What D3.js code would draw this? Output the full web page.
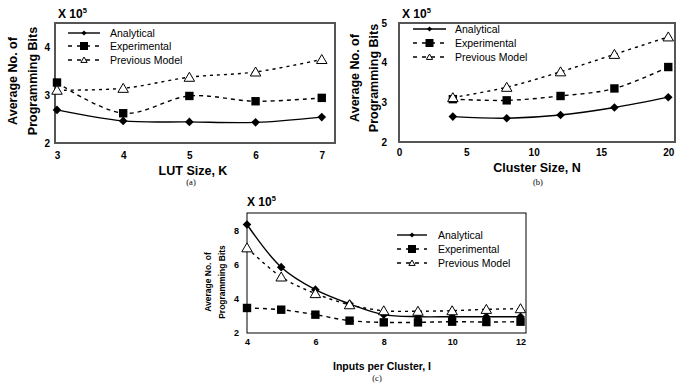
<!DOCTYPE html>
<html><head><meta charset="utf-8">
<script src="https://cdn.jsdelivr.net/npm/d3@7"></script>
<style>
body{margin:0;background:#fff;}
svg{display:block;font-family:"Liberation Sans",Arial,sans-serif;}
</style></head>
<body>
<svg id="c" width="676" height="384"></svg>
<script>
// ---------- data ----------
const lutSizes = [3, 4, 5, 6, 7];
const lutAnalytical   = [2.69, 2.46, 2.44, 2.43, 2.54];
const lutExperimental = [3.26, 2.62, 2.98, 2.87, 2.94];
const lutPrevious     = [3.10, 3.14, 3.37, 3.48, 3.74];
const lutTicksY = [2, 3, 4];
const lutTicksX = [3, 4, 5, 6, 7];

const clusterSizes = [4, 8, 12, 16, 20];
const clusterAnalytical   = [2.64, 2.60, 2.68, 2.87, 3.13];
const clusterExperimental = [3.08, 3.05, 3.16, 3.35, 3.89];
const clusterPrevious     = [3.12, 3.38, 3.77, 4.21, 4.65];
const clusterTicksY = [2, 3, 4, 5];
const clusterTicksX = [0, 5, 10, 15, 20];

const inputs = [4, 5, 6, 7, 8, 9, 10, 11, 12];
const inputsAnalytical   = [8.33, 5.84, 4.53, 3.70, 3.07, 2.95, 2.95, 2.95, 2.95];
const inputsExperimental = [3.46, 3.36, 3.07, 2.72, 2.62, 2.62, 2.66, 2.64, 2.66];
const inputsPrevious     = [6.97, 5.27, 4.30, 3.65, 3.30, 3.27, 3.30, 3.38, 3.42];
const inputsTicksY = [2, 4, 6, 8];
const inputsTicksX = [4, 6, 8, 10, 12];

const seriesNames = ["Analytical", "Experimental", "Previous Model"];

// ---------- drawing ----------
const svg = d3.select("#c");

function marker(g, type, x, y, s) {
  if (type === 0) {
    g.append("path").attr("d", `M${x},${y - s}L${x + s},${y}L${x},${y + s}L${x - s},${y}Z`).attr("fill", "#000");
  } else if (type === 1) {
    g.append("rect").attr("x", x - s).attr("y", y - s).attr("width", 2 * s).attr("height", 2 * s).attr("fill", "#000");
  } else {
    const h = s * 1.8;
    g.append("path").attr("d", `M${x},${y - h * 0.55}L${x + s * 1.05},${y + h * 0.45}L${x - s * 1.05},${y + h * 0.45}Z`)
      .attr("fill", "#fff").attr("stroke", "#000").attr("stroke-width", 1);
  }
}
const dashes = [null, "4,4", "3,4"];

function panel(cfg) {
  const g = svg.append("g");
  const x = d3.scaleLinear().domain(cfg.xDomain).range([cfg.left, cfg.right]);
  const y = d3.scaleLinear().domain(cfg.yDomain).range([cfg.bottom, cfg.top]);

  // frame
  g.append("rect").attr("x", cfg.left).attr("y", cfg.top)
    .attr("width", cfg.right - cfg.left).attr("height", cfg.bottom - cfg.top)
    .attr("fill", "none").attr("stroke", cfg.frameColor).attr("stroke-width", cfg.frameWidth);

  // axes (labels only)
  const ax = g.append("g").attr("transform", `translate(0,${cfg.bottom})`)
    .call(d3.axisBottom(x).tickValues(cfg.ticksX).tickSize(0).tickPadding(cfg.xPad).tickFormat(d3.format("d")));
  ax.select(".domain").remove();
  ax.selectAll("text").attr("font-size", cfg.tickFont).attr("font-weight", "bold").attr("fill", "#000")
    .attr("font-family", "Liberation Sans, Arial, sans-serif");
  const ay = g.append("g").attr("transform", `translate(${cfg.left},0)`)
    .call(d3.axisLeft(y).tickValues(cfg.ticksY).tickSize(0).tickPadding(cfg.yPad).tickFormat(d3.format("d")));
  ay.select(".domain").remove();
  ay.selectAll("text").attr("font-size", cfg.tickFont).attr("font-weight", "bold").attr("fill", "#000")
    .attr("font-family", "Liberation Sans, Arial, sans-serif");

  // x title
  g.append("text").attr("x", cfg.xTitleX).attr("y", cfg.xTitleY).attr("text-anchor", "middle")
    .attr("font-size", cfg.xTitleFont).attr("font-weight", "bold").text(cfg.xTitle);
  // y title
  [["Average No. of", cfg.yTitleX1], ["Programming Bits", cfg.yTitleX2]].forEach(([t, px]) => {
    g.append("text").attr("transform", `translate(${px},${cfg.yTitleY}) rotate(-90)`)
      .attr("text-anchor", "middle").attr("dy", "0.35em")
      .attr("font-size", cfg.yTitleFont).attr("font-weight", "bold").text(t);
  });
  // X 10^5
  const ex = g.append("text").attr("x", cfg.expX).attr("y", cfg.expY).attr("font-size", 12).attr("font-weight", "bold");
  ex.append("tspan").text("X 10");
  ex.append("tspan").attr("font-size", 7.5).attr("dy", -5).text("5");
  // caption
  g.append("text").attr("x", cfg.capX).attr("y", cfg.capY).attr("text-anchor", "middle")
    .attr("font-family", "Liberation Serif, Times New Roman, serif").attr("font-size", 8.5).text(cfg.caption);

  // series
  const line = d3.line().x(d => x(d[0])).y(d => y(d[1])).curve(d3.curveCatmullRom.alpha(0.5));
  cfg.series.forEach((vals, si) => {
    const pts = cfg.xs.map((v, i) => [v, vals[i]]);
    g.append("path").attr("d", line(pts)).attr("fill", "none").attr("stroke", "#000")
      .attr("stroke-width", 1.4).attr("stroke-dasharray", dashes[si]);
  });
  [1, 0, 2].forEach(si => {
    cfg.xs.forEach((v, i) => marker(g, si, x(v), y(cfg.series[si][i]), si === 0 ? 4.3 : (si === 1 ? 4.2 : 5)));
  });

  // legend
  seriesNames.forEach((name, si) => {
    const ly = cfg.legY[si];
    g.append("line").attr("x1", cfg.legX1).attr("x2", cfg.legX2).attr("y1", ly).attr("y2", ly)
      .attr("stroke", "#000").attr("stroke-width", 1.4).attr("stroke-dasharray", si === 0 ? null : "4,5");
    const mx = (cfg.legX1 + cfg.legX2) / 2;
    marker(g, si, mx, ly, si === 0 ? 2.6 : (si === 1 ? 4 : 3));
    g.append("text").attr("x", cfg.legText).attr("y", ly).attr("dy", "0.35em")
      .attr("font-size", 10.5).text(name);
  });
}

panel({
  xs: lutSizes, series: [lutAnalytical, lutExperimental, lutPrevious],
  xDomain: [2.97, 7.2], yDomain: [2, 4.5],
  left: 55, right: 335, top: 23, bottom: 143,
  ticksX: lutTicksX, ticksY: lutTicksY, tickFont: 10, xPad: 9, yPad: 5,
  frameColor: "#555", frameWidth: 2,
  xTitle: "LUT Size, K", xTitleX: 193, xTitleY: 175, xTitleFont: 12.5,
  yTitleX1: 13, yTitleX2: 33, yTitleY: 81, yTitleFont: 12.5,
  expX: 58, expY: 18, capX: 191, capY: 185, caption: "(a)",
  legX1: 68, legX2: 100, legText: 110, legY: [33, 46, 60]
});

panel({
  xs: clusterSizes, series: [clusterAnalytical, clusterExperimental, clusterPrevious],
  xDomain: [0, 20.5], yDomain: [2, 5],
  left: 399, right: 675, top: 23, bottom: 142,
  ticksX: clusterTicksX, ticksY: clusterTicksY, tickFont: 10, xPad: 7, yPad: 12,
  frameColor: "#555", frameWidth: 2,
  xTitle: "Cluster Size, N", xTitleX: 537, xTitleY: 172, xTitleFont: 12.5,
  yTitleX1: 355, yTitleX2: 374, yTitleY: 78, yTitleFont: 12.5,
  expX: 402, expY: 18, capX: 538, capY: 185, caption: "(b)",
  legX1: 413, legX2: 446, legText: 455, legY: [29, 43, 57]
});

panel({
  xs: inputs, series: [inputsAnalytical, inputsExperimental, inputsPrevious],
  xDomain: [4, 12.16], yDomain: [2, 9],
  left: 247, right: 526, top: 213, bottom: 333,
  ticksX: inputsTicksX, ticksY: inputsTicksY, tickFont: 9, xPad: 6, yPad: 8,
  frameColor: "#000", frameWidth: 1,
  xTitle: "Inputs per Cluster, I", xTitleX: 382, xTitleY: 370, xTitleFont: 10.5,
  yTitleX1: 208, yTitleX2: 222, yTitleY: 282, yTitleFont: 8.5,
  expX: 247, expY: 206, capX: 377, capY: 381, caption: "(c)",
  legX1: 397, legX2: 427, legText: 438, legY: [235, 249, 263]
});
</script>
</body></html>
